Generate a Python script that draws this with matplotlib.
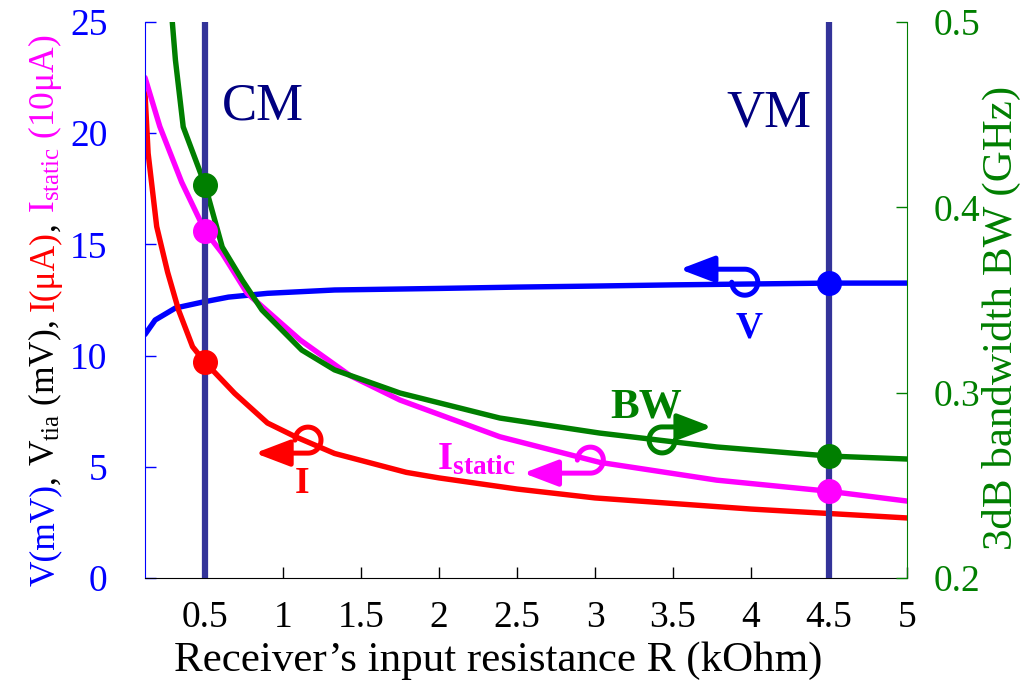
import numpy as np
import matplotlib
matplotlib.use("Agg")
import matplotlib.pyplot as plt
from matplotlib.path import Path
from matplotlib.patches import FancyArrowPatch
from matplotlib.transforms import IdentityTransform

plt.rcParams['font.family'] = ['Liberation Serif', 'DejaVu Serif']
plt.rcParams['mathtext.fontset'] = 'custom'
plt.rcParams['mathtext.rm'] = 'Liberation Serif'
plt.rcParams['mathtext.bf'] = 'Liberation Serif:bold'
plt.rcParams['mathtext.it'] = 'Liberation Serif:italic'

# data (R in kOhm)
R_v = [0.115, 0.18, 0.31, 0.48, 0.65, 0.9, 1.33, 2.0, 2.5, 3.03, 3.5, 4.0, 4.5, 5.0]
V = [10.95, 11.6, 12.14, 12.4, 12.63, 12.8, 12.95, 13.02, 13.08, 13.13, 13.18, 13.22, 13.26, 13.26]

R_i = [0.115, 0.135, 0.19, 0.26, 0.33, 0.42, 0.5, 0.69, 0.9, 1.08, 1.33, 1.79, 2.0, 2.5,
       3.0, 3.5, 4.0, 4.5, 5.0]
I = [21.8, 19.1, 15.8, 13.75, 12.05, 10.4, 9.7, 8.3, 6.97, 6.35, 5.6, 4.75, 4.5, 4.0,
     3.6, 3.35, 3.1, 2.9, 2.7]

R_s = [0.115, 0.21, 0.35, 0.5, 0.61, 0.69, 0.77, 1.11, 1.43, 1.75, 2.39, 3.03, 3.78, 4.5, 5.0]
I_static = [22.5, 20.3, 17.8, 15.6, 14.6, 13.7, 12.8, 10.7, 9.1, 8.0, 6.35, 5.2, 4.4, 3.9, 3.46]

R_bw = [0.29, 0.31, 0.36, 0.5, 0.61, 0.74, 0.865, 1.12, 1.33, 1.75, 2.39, 3.03, 3.78, 4.5, 5.0]
BW = [0.5, 0.4795, 0.4434, 0.412, 0.3786, 0.3605, 0.3446, 0.323, 0.3123, 0.2998, 0.2863,
      0.2782, 0.2707, 0.2658, 0.2642]

R_cm, R_vm = 0.5, 4.5
x_ticks = [0.5, 1, 1.5, 2, 2.5, 3, 3.5, 4, 4.5, 5]
y_ticks = [0, 5, 10, 15, 20, 25]
bw_ticks = [0.2, 0.3, 0.4, 0.5]

BLUE, RED, MAG, GREEN = '#0000ff', '#ff0000', '#ff00ff', '#007f00'
NAVY, VLINE = '#000080', '#333399'

fig = plt.figure(figsize=(10.33, 6.83), dpi=100)
ax = fig.add_axes([145/1033, 1 - 578/683, 762/1033, 556/683])
ax2 = ax.twinx()

ax.set_xlim(0.115, 5.0)
ax.set_ylim(0, 25)
ax2.set_ylim(0.2, 0.5)

lw = 3.9
style = dict(lw=lw, solid_capstyle='round', solid_joinstyle='round')
ax.plot(R_v, V, color=BLUE, zorder=2, **style)
ax.plot(R_i, I, color=RED, zorder=2, **style)
ax.plot(R_s, I_static, color=MAG, zorder=2, **style)
ax.plot(R_bw, BW, color=GREEN, zorder=2.2, transform=ax2.transData, **style)

for r in (R_cm, R_vm):
    ax.axvline(r, color=VLINE, lw=4.5, solid_capstyle='round', zorder=3)

ms = 17
ax.plot(R_cm, np.interp(R_cm, R_i, I), 'o', color=RED, ms=ms, zorder=4)
ax.plot(R_cm, np.interp(R_cm, R_s, I_static), 'o', color=MAG, ms=ms, zorder=4)
ax.plot(R_cm, np.interp(R_cm, R_bw, BW), 'o', color=GREEN, ms=ms, zorder=4,
        transform=ax2.transData)
ax.plot(R_vm, np.interp(R_vm, R_v, V), 'o', color=BLUE, ms=ms, zorder=4)
ax.plot(R_vm, np.interp(R_vm, R_s, I_static), 'o', color=MAG, ms=ms, zorder=4)
ax.plot(R_vm, np.interp(R_vm, R_bw, BW), 'o', color=GREEN, ms=ms, zorder=4,
        transform=ax2.transData)

# spines and ticks
for s in ('top', 'right'):
    ax.spines[s].set_visible(False)
for s in ('top', 'left', 'bottom'):
    ax2.spines[s].set_visible(False)
ax.spines['left'].set_color(BLUE)
ax.spines['bottom'].set_color('black')
ax2.spines['right'].set_color(GREEN)

ax.set_xticks(x_ticks)
ax.set_xticklabels([f'{t:g}' for t in x_ticks])
ax.set_yticks(y_ticks)
ax2.set_yticks(bw_ticks)
ax2.set_yticklabels([f'{t:g}' for t in bw_ticks])
ax.tick_params(axis='x', direction='in', length=8, width=1, colors='black',
               labelsize=27, pad=16)
ax.tick_params(axis='y', direction='in', length=8, width=1, colors=BLUE,
               labelsize=27, pad=27)
ax2.tick_params(axis='y', direction='in', length=8, width=1, colors=GREEN,
                labelsize=27, pad=19)

ax.set_xlabel("Receiver\u2019s input resistance R (kOhm)", fontsize=31, labelpad=5)
ax.xaxis.label.set_x(0.463)
ax2.set_ylabel("3dB bandwidth BW (GHz)", fontsize=31, color=GREEN, labelpad=1)
ax2.yaxis.label.set_y(0.468)

# mode labels
ax.text(0.61, 20.6, 'CM', color=NAVY, fontsize=38, ha='left', va='baseline')
ax.text(4.39, 20.3, 'VM', color=NAVY, fontsize=38, ha='right', va='baseline')

# curve labels
ax.text(3.99, 10.8, 'V', color=BLUE, fontsize=27, fontweight='bold', ha='center')
ax.text(1.12, 3.8, 'I', color=RED, fontsize=27, fontweight='bold', ha='center')
ax.text(2.24, 4.9, r'I$_{\mathbf{static}}$', color=MAG, fontsize=28,
        fontweight='bold', ha='center')
ax.text(3.33, 7.2, 'BW', color=GREEN, fontsize=31, fontweight='bold', ha='center')


def hook(xc, yc, a0, a1, shaft, color, trans, r=13):
    cx, cy = trans.transform((xc, yc))
    t = np.radians(np.linspace(a0, a1, 50))
    px = cx + r * np.cos(t)
    py = cy + r * np.sin(t)
    verts = list(zip(px, py)) + [(px[-1] + shaft, py[-1])]
    arr = FancyArrowPatch(path=Path(verts), arrowstyle='-|>,head_length=1.05,head_width=0.4',
                          mutation_scale=20, color=color, lw=3.6,
                          transform=IdentityTransform(), zorder=2.5)
    ax.add_patch(arr)


hook(1.16, 6.2, 180, -90, -53, RED, ax.transData)
hook(2.97, 5.3, 180, -90, -67, MAG, ax.transData)
hook(3.96, 13.3, 180, 450, -65, BLUE, ax.transData)
hook(3.43, 0.2745, 0, -270, 50, GREEN, ax2.transData)

# multi-coloured left axis label, built from vertical pieces
pieces = [("V(mV)", BLUE, 0), (",", 'black', 9), (r"V$_{\mathrm{tia}}$ (mV),", 'black', 9),
          ("I(μA)", RED, 0), (",", 'black', 9), (r"I$_{\mathrm{static}}$ (10μA)", MAG, 0)]
renderer = fig.canvas.get_renderer()
base = 25
total = 0
for txt, col, gap in pieces:
    t = fig.text(0, 0, txt, fontsize=base, rotation=90, rotation_mode='anchor')
    total += t.get_window_extent(renderer).height + gap
    t.remove()
size = base * 552 / total
xb, yb = 54, 683 - 586
for txt, col, gap in pieces:
    t = fig.text(xb / 1033, yb / 683, txt, color=col, fontsize=size, rotation=90,
                 rotation_mode='anchor', ha='left', va='baseline')
    yb += t.get_window_extent(renderer).height + gap * size / base

fig.savefig('out.png', dpi=100)
